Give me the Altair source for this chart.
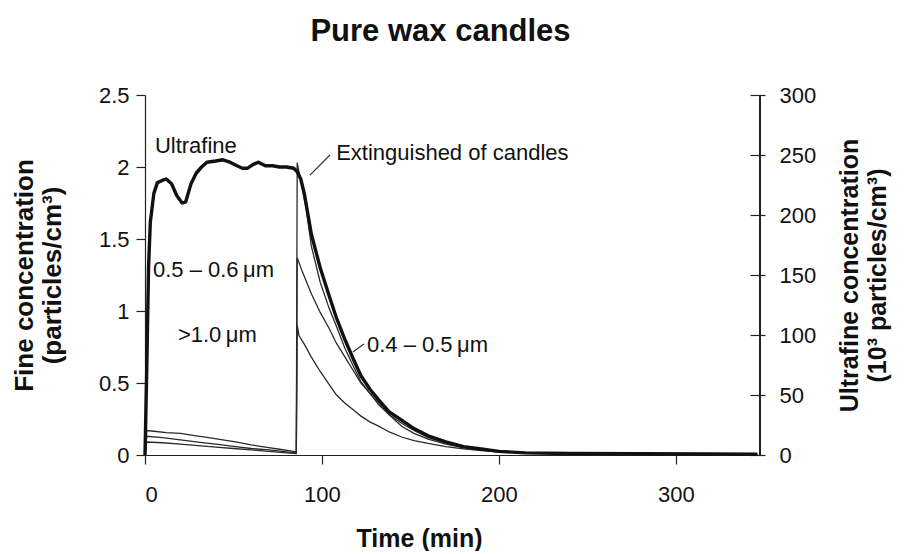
import altair as alt
import pandas as pd

FONT = "Liberation Sans"
W, H = 615, 360

# ---- Ultrafine concentration (10^3 particles/cm3), right axis ----
uf_t = [0, 1, 2, 3, 5, 7, 10, 12, 15, 18, 21, 23, 26, 29, 32, 35, 40, 44, 48, 52,
        55, 58, 61, 64, 68, 72, 76, 80, 84, 86, 88, 90, 94, 99, 104, 108, 113, 118, 122, 127,
        132, 138, 145, 152, 160, 170, 180, 190, 200, 215, 240, 280, 320, 346]
uf_v = [0, 72, 156, 194, 218, 227, 229, 230, 226, 216, 210, 211, 226, 235, 240, 244, 245, 246, 244, 241,
        239, 239, 242, 244, 241, 241, 240, 240, 239, 236, 230, 218, 184, 156, 133, 115, 96, 79, 66, 55,
        46, 36, 29, 22, 16, 11, 7, 5, 3, 1.8, 1.2, 1, 0.8, 0.7]

# ---- Fine concentrations (particles/cm3), left axis ----
f45_t = [0, 1, 5, 12, 20, 28, 36, 44, 52, 60, 68, 76, 84, 85.5, 86, 88, 91, 94, 99, 104,
         108, 113, 118, 122, 127, 132, 138, 145, 152, 160, 170, 180, 190, 200, 215, 240, 280, 320, 346]
f45_v = [0, 0.17, 0.165, 0.155, 0.15, 0.135, 0.12, 0.105, 0.09, 0.07, 0.055, 0.04, 0.025, 0.02, 2.03, 1.90, 1.72, 1.45, 1.20, 1.02,
         0.90, 0.74, 0.61, 0.51, 0.43, 0.35, 0.28, 0.22, 0.17, 0.12, 0.085, 0.055, 0.037, 0.024, 0.014, 0.009, 0.007, 0.006, 0.005]

f56_t = [0, 1, 10, 20, 30, 40, 50, 60, 70, 80, 85.5, 86, 89, 94, 99, 104, 108, 113, 118, 122,
         127, 132, 138, 145, 152, 160, 170, 180, 190, 200, 215, 240, 280, 346]
f56_v = [0, 0.13, 0.12, 0.105, 0.09, 0.075, 0.06, 0.045, 0.035, 0.022, 0.015, 1.37, 1.27, 1.12, 0.99, 0.88, 0.78, 0.68, 0.58, 0.50,
         0.43, 0.36, 0.28, 0.20, 0.15, 0.11, 0.075, 0.05, 0.034, 0.024, 0.015, 0.01, 0.007, 0.005]

f10_t = [0, 1, 10, 20, 30, 40, 50, 60, 70, 80, 85.5, 86, 87, 90, 94, 99, 104, 108, 113, 118,
         122, 127, 132, 138, 145, 152, 160, 170, 180, 190, 200, 215, 240, 280, 346]
f10_v = [0, 0.09, 0.085, 0.075, 0.065, 0.055, 0.045, 0.035, 0.025, 0.015, 0.01, 0.9, 0.83, 0.77, 0.68, 0.58, 0.49, 0.42, 0.36, 0.31,
         0.27, 0.23, 0.20, 0.16, 0.125, 0.10, 0.08, 0.058, 0.042, 0.03, 0.022, 0.015, 0.01, 0.007, 0.005]

# ---- Annotations (in data units: time, fine concentration) ----
ann_text = ["Ultrafine", "Extinguished of candles", "0.5 \u2013 0.6\u2009\u03bcm", ">1.0\u2009\u03bcm", "0.4 \u2013 0.5\u2009\u03bcm"]
ann_t = [5.6, 108, 4.5, 18.6, 125.4]
ann_v = [2.146, 2.10, 1.285, 0.833, 0.764]

lead_t = [93.2, 117.5]
lead_v = [1.944, 0.715]
lead_t2 = [104.5, 123.7]
lead_v2 = [2.083, 0.771]

x_ticks = [0, 100, 200, 300]
left_ticks = [0, 0.5, 1, 1.5, 2, 2.5]
right_ticks = [0, 50, 100, 150, 200, 250, 300]

fine_df = pd.concat([
    pd.DataFrame({"t": f45_t, "v": f45_v, "series": "0.4-0.5"}),
    pd.DataFrame({"t": f56_t, "v": f56_v, "series": "0.5-0.6"}),
    pd.DataFrame({"t": f10_t, "v": f10_v, "series": ">1.0"}),
], ignore_index=True)
uf_df = pd.DataFrame({"t": uf_t, "u": uf_v})
ann_df = pd.DataFrame({"t": ann_t, "v": ann_v, "label": ann_text})
lead_df = pd.DataFrame({"t": lead_t, "v": lead_v, "t2": lead_t2, "v2": lead_v2})

x_axis = alt.Axis(values=x_ticks, title="Time (min)", labelFontSize=22, titleFontSize=25,
                  titleFontWeight="bold", tickSize=9, labelPadding=20, titleX=274, titleY=83,
                  titleAnchor="start", titleAlign="center", titleBaseline="middle")
x_enc = alt.X("t:Q", scale=alt.Scale(domain=[0, 347.5], nice=False, zero=False), axis=x_axis)

left_axis = alt.Axis(orient="left", values=left_ticks, format="~g", labelFontSize=22, tickSize=9,
                     labelPadding=7, title=["Fine concentration", "(particles/cm\u00b3)"],
                     titleFontSize=26, titleFontWeight="bold", titleAngle=270, titleX=-121, titleY=180,
                     titleAlign="center", titleBaseline="middle", titleLineHeight=28)
y_fine = alt.Y("v:Q", scale=alt.Scale(domain=[0, 2.5], nice=False), axis=left_axis)

right_axis = alt.Axis(orient="right", values=right_ticks, labelFontSize=22, tickSize=15, offset=-10,
                      domain=False, labelPadding=14,
                      title=["Ultrafine concentration", "(10\u00b3 particles/cm\u00b3)"],
                      titleFontSize=25, titleFontWeight="bold", titleAngle=270, titleX=99, titleY=180,
                      titleAlign="center", titleBaseline="middle", titleLineHeight=28)
y_uf = alt.Y("u:Q", scale=alt.Scale(domain=[0, 300], nice=False), axis=right_axis)

fine_lines = alt.Chart(fine_df).mark_line(color="#2a2a2a", strokeWidth=1.3).encode(
    x=x_enc, y=y_fine, detail="series:N", order="t:Q")
texts = alt.Chart(ann_df).mark_text(align="left", baseline="middle", font=FONT, fontSize=22,
                                     color="#111").encode(x=x_enc, y=y_fine, text="label:N")
leads = alt.Chart(lead_df).mark_rule(color="#333", strokeWidth=1.2).encode(
    x=x_enc, y=y_fine, x2="t2:Q", y2="v2:Q")
fine_layer = alt.layer(fine_lines, texts, leads)

uf_line = alt.Chart(uf_df).mark_line(color="#111", strokeWidth=3.4, strokeJoin="round").encode(
    x=x_enc, y=y_uf, order="t:Q")
right_line = alt.Chart(uf_df).mark_rule(color="#222", strokeWidth=1.2).encode(
    x=alt.value(W), y=alt.value(0), y2=alt.value(H))
uf_layer = alt.layer(uf_line, right_line)

chart = alt.layer(fine_layer, uf_layer).resolve_scale(y="independent").properties(
    width=W, height=H,
    title=alt.Title("Pure wax candles", font=FONT, fontSize=31, fontWeight="bold", anchor="middle",
                    dx=-12, offset=36, color="#111"),
    padding={"left": 137, "top": 87, "right": 139, "bottom": 96},
    autosize=alt.AutoSizeParams(type="none"),
).configure_view(stroke=None).configure_axis(
    grid=False, domainColor="#222", tickColor="#222", labelColor="#111", titleColor="#111",
    labelFont=FONT, titleFont=FONT, domainWidth=1.2, tickWidth=1.2
)

chart.save("out.html", embed_options={"renderer": "svg", "actions": False})
